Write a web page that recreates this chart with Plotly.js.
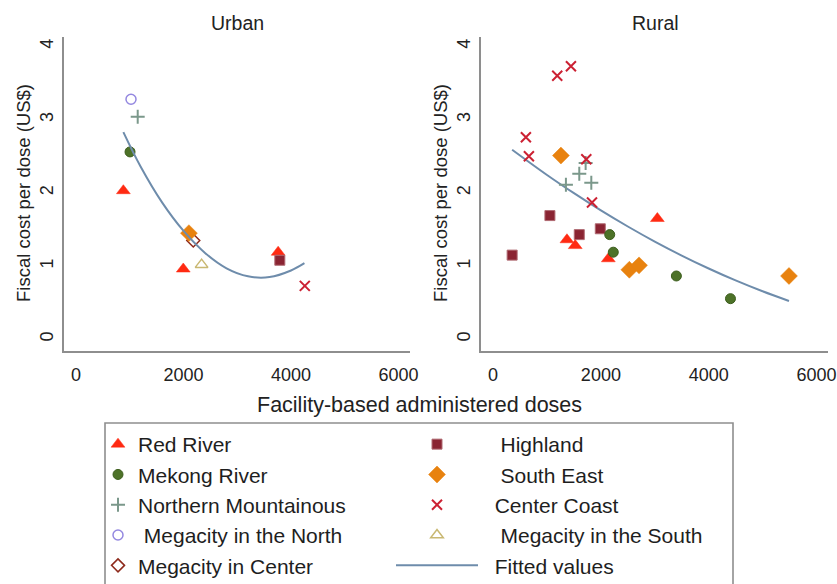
<!DOCTYPE html>
<html>
<head>
<meta charset="utf-8">
<script src="https://cdn.plot.ly/plotly-3.0.1.min.js"></script>
<style>html,body{margin:0;padding:0;background:#fff;}#chart{width:837px;height:584px;}</style>
</head>
<body>
<div id="chart"></div>
<script>
// ---- Urban panel data ----
const urbanRedRiverX = [880, 1995, 3761];
const urbanRedRiverY = [2.03, 0.96, 1.19];
const urbanMekongX = [1004];
const urbanMekongY = [2.56];
const urbanNorthMtnX = [1147];
const urbanNorthMtnY = [3.04];
const urbanMegaNorthX = [1022];
const urbanMegaNorthY = [3.28];
const urbanMegaCenterX = [2181];
const urbanMegaCenterY = [1.35];
const urbanHighlandX = [3792];
const urbanHighlandY = [1.08];
const urbanSouthEastX = [2100];
const urbanSouthEastY = [1.45];
const urbanCenterCoastX = [4257];
const urbanCenterCoastY = [0.73];
const urbanMegaSouthX = [2336];
const urbanMegaSouthY = [1.02];
const urbanFitX = [880, 1200, 1600, 2000, 2400, 2800, 3200, 3600, 4000, 4250];
const urbanFitY = [2.83, 2.36, 1.87, 1.48, 1.18, 0.97, 0.86, 0.85, 0.94, 1.04];

// ---- Rural panel data ----
const ruralRedRiverX = [1370, 1524, 2138, 3048];
const ruralRedRiverY = [1.36, 1.28, 1.10, 1.65];
const ruralMekongX = [2164, 2230, 3401, 4405];
const ruralMekongY = [1.43, 1.19, 0.865, 0.555];
const ruralNorthMtnX = [1351, 1599, 1717, 1822];
const ruralNorthMtnY = [2.11, 2.26, 2.41, 2.14];
const ruralHighlandX = [353, 1054, 1599, 1989];
const ruralHighlandY = [1.15, 1.69, 1.43, 1.51];
const ruralSouthEastX = [1258, 2528, 2708, 5491];
const ruralSouthEastY = [2.51, 0.95, 1.01, 0.865];
const ruralCenterCoastX = [608, 664, 1190, 1444, 1729, 1835];
const ruralCenterCoastY = [2.76, 2.50, 3.60, 3.73, 2.46, 1.87];
const ruralFitX = [353, 1000, 1500, 2000, 2500, 3000, 3500, 4000, 4500, 5000, 5491];
const ruralFitY = [2.59, 2.245, 1.996, 1.761, 1.541, 1.335, 1.144, 0.967, 0.804, 0.656, 0.524];

const xTicks = [0, 2000, 4000, 6000];
const yTicks = [0, 1, 2, 3, 4];
const panelTitles = ['Urban', 'Rural'];
const xTitle = 'Facility-based administered doses';
const yTitle = 'Fiscal cost per dose (US$)';

const FONT = 'Liberation Sans, Arial, Helvetica, sans-serif';
const NB = '\u00a0';

const styles = {
  red:   {name: 'Red River', legend: 'legend', marker: {symbol: 'triangle-up', size: 12, color: '#ff2a12', line: {width: 0.5, color: '#ff2a12'}}},
  mek:   {name: 'Mekong River', legend: 'legend', marker: {symbol: 'circle', size: 10, color: '#4d7228', line: {width: 1, color: '#3d5e1e'}}},
  nmt:   {name: 'Northern Mountainous', legend: 'legend', marker: {symbol: 'cross-thin-open', size: 10, color: '#7b988b', line: {width: 2, color: '#7b988b'}}},
  mgn:   {name: NB + 'Megacity in the North', legend: 'legend', marker: {symbol: 'circle-open', size: 10, color: '#9488e0', line: {width: 1.5, color: '#9488e0'}}},
  mgc:   {name: 'Megacity in Center', legend: 'legend', marker: {symbol: 'diamond-open', size: 10, color: '#8e2a1c', line: {width: 1.5, color: '#8e2a1c'}}},
  hig:   {name: NB + NB + NB + 'Highland', legend: 'legend2', marker: {symbol: 'square', size: 10, color: '#8a2432', line: {width: 1, color: '#b06a72'}}},
  se:    {name: NB + NB + NB + 'South East', legend: 'legend2', marker: {symbol: 'diamond', size: 13, color: '#e8820f', line: {width: 0.5, color: '#e8820f'}}},
  cc:    {name: NB + NB + 'Center Coast', legend: 'legend2', marker: {symbol: 'x-thin-open', size: 10, color: '#cc2133', line: {width: 2, color: '#cc2133'}}},
  mgs:   {name: NB + NB + NB + 'Megacity in the South', legend: 'legend2', marker: {symbol: 'triangle-up-open', size: 11, color: '#c9b872', line: {width: 1.5, color: '#c9b872'}}}
};

function pts(key, x, y, xa, ya, show) {
  const s = styles[key];
  return {type: 'scatter', mode: 'markers', x: x, y: y, xaxis: xa, yaxis: ya,
    name: s.name, legend: s.legend, legendgroup: key, showlegend: show,
    marker: s.marker, hoverinfo: 'x+y'};
}
function fit(x, y, xa, ya, show) {
  return {type: 'scatter', mode: 'lines', x: x, y: y, xaxis: xa, yaxis: ya,
    name: NB + NB + 'Fitted values', legend: 'legend2', legendgroup: 'fit', showlegend: show,
    line: {color: '#6e8cab', width: 2, shape: 'spline'}};
}

const traces = [
  pts('red', urbanRedRiverX, urbanRedRiverY, 'x', 'y', true),
  pts('mek', urbanMekongX, urbanMekongY, 'x', 'y', true),
  pts('nmt', urbanNorthMtnX, urbanNorthMtnY, 'x', 'y', true),
  pts('mgn', urbanMegaNorthX, urbanMegaNorthY, 'x', 'y', true),
  pts('mgc', urbanMegaCenterX, urbanMegaCenterY, 'x', 'y', true),
  pts('hig', urbanHighlandX, urbanHighlandY, 'x', 'y', true),
  pts('se', urbanSouthEastX, urbanSouthEastY, 'x', 'y', true),
  pts('cc', urbanCenterCoastX, urbanCenterCoastY, 'x', 'y', true),
  pts('mgs', urbanMegaSouthX, urbanMegaSouthY, 'x', 'y', true),
  fit(urbanFitX, urbanFitY, 'x', 'y', true),
  fit(ruralFitX, ruralFitY, 'x2', 'y2', false),
  pts('hig', ruralHighlandX, ruralHighlandY, 'x2', 'y2', false),
  pts('red', ruralRedRiverX, ruralRedRiverY, 'x2', 'y2', false),
  pts('mek', ruralMekongX, ruralMekongY, 'x2', 'y2', false),
  pts('nmt', ruralNorthMtnX, ruralNorthMtnY, 'x2', 'y2', false),
  pts('se', ruralSouthEastX, ruralSouthEastY, 'x2', 'y2', false),
  pts('cc', ruralCenterCoastX, ruralCenterCoastY, 'x2', 'y2', false)
];

const W = 837, H = 584;
const px = v => v / W;
const py = v => (H - v) / H;

const axCommon = {
  showgrid: false, zeroline: false, showline: true, linecolor: '#8e8e8e', linewidth: 1.6,
  ticks: '', tickfont: {family: FONT, size: 18, color: '#222'}
};
const xAx = Object.assign({}, axCommon, {range: [-225, 6215], tickvals: xTicks, ticktext: xTicks.map(String), ticklabelstandoff: 7});
const yAx = Object.assign({}, axCommon, {range: [-0.16, 4.13], tickvals: yTicks, ticktext: yTicks.map(String), tickangle: -90, ticklabelstandoff: 2});

const legFont = {family: FONT, size: 21, color: '#1e1e1e'};

const layout = {
  width: W, height: H,
  margin: {l: 0, r: 0, t: 0, b: 0, autoexpand: false},
  paper_bgcolor: '#fff', plot_bgcolor: '#fff',
  font: {family: FONT, color: '#222'},
  xaxis: Object.assign({}, xAx, {domain: [px(64), px(410)], anchor: 'y'}),
  yaxis: Object.assign({}, yAx, {domain: [py(351), py(37)], anchor: 'x'}),
  xaxis2: Object.assign({}, xAx, {domain: [px(481), px(828)], anchor: 'y2'}),
  yaxis2: Object.assign({}, yAx, {domain: [py(351), py(37)], anchor: 'x2'}),
  legend: {x: px(98), y: py(424), xanchor: 'left', yanchor: 'top', orientation: 'v',
    bgcolor: 'rgba(0,0,0,0)', borderwidth: 0, itemwidth: 30, traceorder: 'normal', font: legFont},
  legend2: {x: px(391), y: py(424), xanchor: 'left', yanchor: 'top', orientation: 'v',
    bgcolor: 'rgba(0,0,0,0)', borderwidth: 0, itemwidth: 82, traceorder: 'normal', font: legFont},
  shapes: [
    {type: 'rect', xref: 'paper', yref: 'paper', x0: px(105), x1: px(733), y0: -0.05, y1: py(423),
     line: {color: '#8e8e8e', width: 1.6}, fillcolor: 'rgba(0,0,0,0)'}
  ],
  annotations: [
    {text: panelTitles[0], xref: 'paper', yref: 'paper', x: px(237), y: py(23), showarrow: false,
     font: {family: FONT, size: 19.5, color: '#222'}, xanchor: 'center', yanchor: 'middle'},
    {text: panelTitles[1], xref: 'paper', yref: 'paper', x: px(655), y: py(23), showarrow: false,
     font: {family: FONT, size: 19.5, color: '#222'}, xanchor: 'center', yanchor: 'middle'},
    {text: xTitle, xref: 'paper', yref: 'paper', x: px(420), y: py(405), showarrow: false,
     font: {family: FONT, size: 21.5, color: '#222'}, xanchor: 'center', yanchor: 'middle'},
    {text: yTitle, xref: 'paper', yref: 'paper', x: px(23), y: py(193), showarrow: false, textangle: -90,
     font: {family: FONT, size: 18.5, color: '#222'}, xanchor: 'center', yanchor: 'middle'},
    {text: yTitle, xref: 'paper', yref: 'paper', x: px(440), y: py(193), showarrow: false, textangle: -90,
     font: {family: FONT, size: 18.5, color: '#222'}, xanchor: 'center', yanchor: 'middle'}
  ]
};

Plotly.newPlot('chart', traces, layout, {displayModeBar: false, staticPlot: true});
</script>
</body>
</html>
